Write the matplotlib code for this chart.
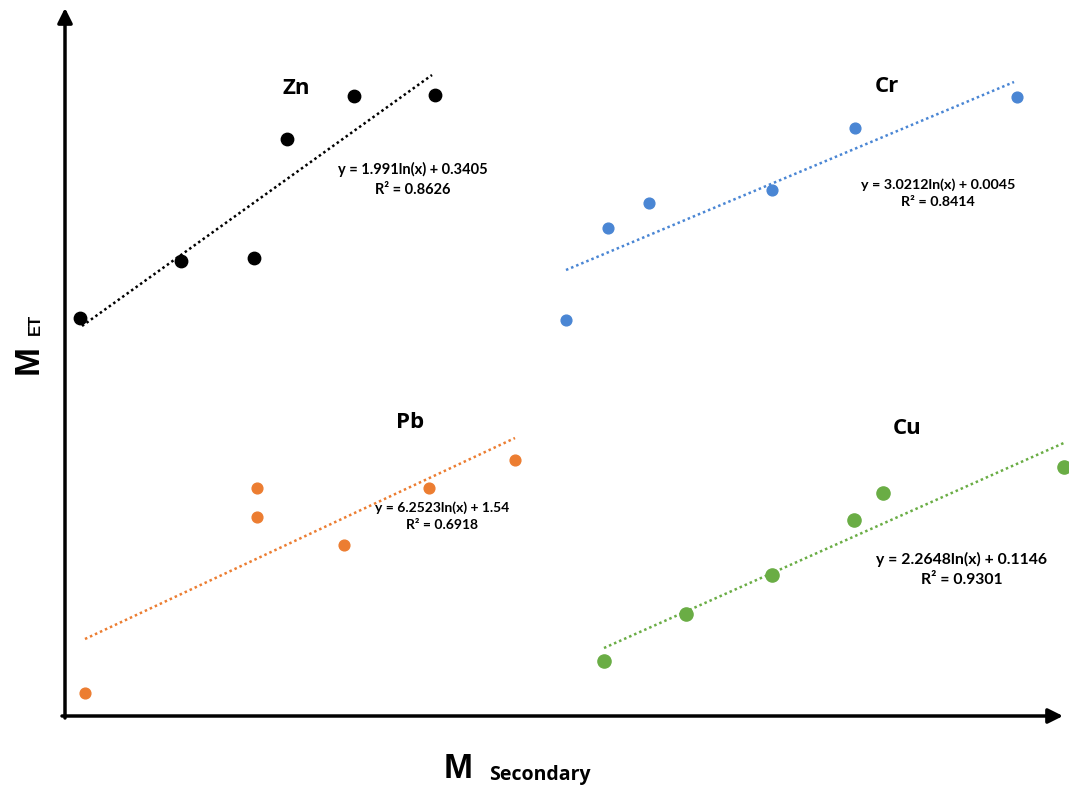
import matplotlib.pyplot as plt

# element groups: scatter points (M_Secondary, M_ET) in plot units
zn_x = [15, 116, 189, 222, 289, 370]
zn_y = [398, 455, 458, 577, 620, 621]
cr_x = [501, 543, 584, 707, 790, 952]
cr_y = [396, 488, 513, 526, 588, 619]
pb_x = [20, 192, 192, 279, 364, 450]
pb_y = [23, 228, 199, 171, 228, 256]
cu_x = [539, 621, 707, 789, 818, 999]
cu_y = [55, 102, 141, 196, 223, 249]

# log trend line end points for each group
zn_trend_x = [17, 367]
zn_trend_y = [390, 641]
cr_trend_x = [501, 949]
cr_trend_y = [446, 634]
pb_trend_x = [20, 450]
pb_trend_y = [77, 278]
cu_trend_x = [539, 1001]
cu_trend_y = [68, 274]

names = ["Zn", "Cr", "Pb", "Cu"]
colors = ["black", "#4a86d4", "#ec7d31", "#6aad45"]
equations = [
    "y = 1.991ln(x) + 0.3405\nR² = 0.8626",
    "y = 3.0212ln(x) + 0.0045\nR² = 0.8414",
    "y = 6.2523ln(x) + 1.54\nR² = 0.6918",
    "y = 2.2648ln(x) + 0.1146\nR² = 0.9301",
]
name_pos = [(231, 628), (822, 629), (345, 294), (842, 288)]
eq_pos = [(348, 537), (873, 523), (377, 200), (897, 147)]
eq_size = [10.5, 10.3, 10, 11.3]

fig = plt.figure(figsize=(10.69, 7.95), dpi=100)
ax = fig.add_axes([0, 0, 1, 1])
ax.set_xlim(-65, 1004)
ax.set_ylim(-79, 716)
ax.axis("off")

groups = [
    (zn_x, zn_y, zn_trend_x, zn_trend_y),
    (cr_x, cr_y, cr_trend_x, cr_trend_y),
    (pb_x, pb_y, pb_trend_x, pb_trend_y),
    (cu_x, cu_y, cu_trend_x, cu_trend_y),
]
sizes = [80, 60, 60, 90]
for i, (gx, gy, tx, ty) in enumerate(groups):
    ax.plot(tx, ty, linestyle=(0, (1, 1.2)), color=colors[i], linewidth=1.8)
    ax.scatter(gx, gy, s=sizes[i], color=colors[i], zorder=3)
    ax.text(name_pos[i][0], name_pos[i][1], names[i], fontsize=16,
            fontweight="bold", family="Open Sans", ha="center", va="center")
    ax.text(eq_pos[i][0], eq_pos[i][1], equations[i], fontsize=eq_size[i],
            fontweight="bold", family="Lato",
            ha="center", va="center", linespacing=1.55)

# axis arrows
ax.annotate("", xy=(0, 708), xytext=(0, -2),
            arrowprops=dict(arrowstyle="-|>", color="black", lw=2.5,
                            mutation_scale=22, shrinkA=0, shrinkB=0))
ax.annotate("", xy=(998, 0), xytext=(-3, 0),
            arrowprops=dict(arrowstyle="-|>", color="black", lw=2.5,
                            mutation_scale=22, shrinkA=0, shrinkB=0))

# axis titles
ax.text(-37, 356, "M", fontsize=25, fontweight="bold", family="Liberation Sans",
        rotation=90, ha="center", va="center")
ax.text(-30, 392, "ET", fontsize=12, fontweight="bold", family="Liberation Sans",
        rotation=90, ha="center", va="center")
ax.text(393, -53, "M", fontsize=25, fontweight="bold", family="Liberation Sans",
        ha="center", va="center")
ax.text(475, -59, "Secondary", fontsize=14, fontweight="bold", family="Open Sans",
        ha="center", va="center")

fig.savefig("out.png", dpi=100)
